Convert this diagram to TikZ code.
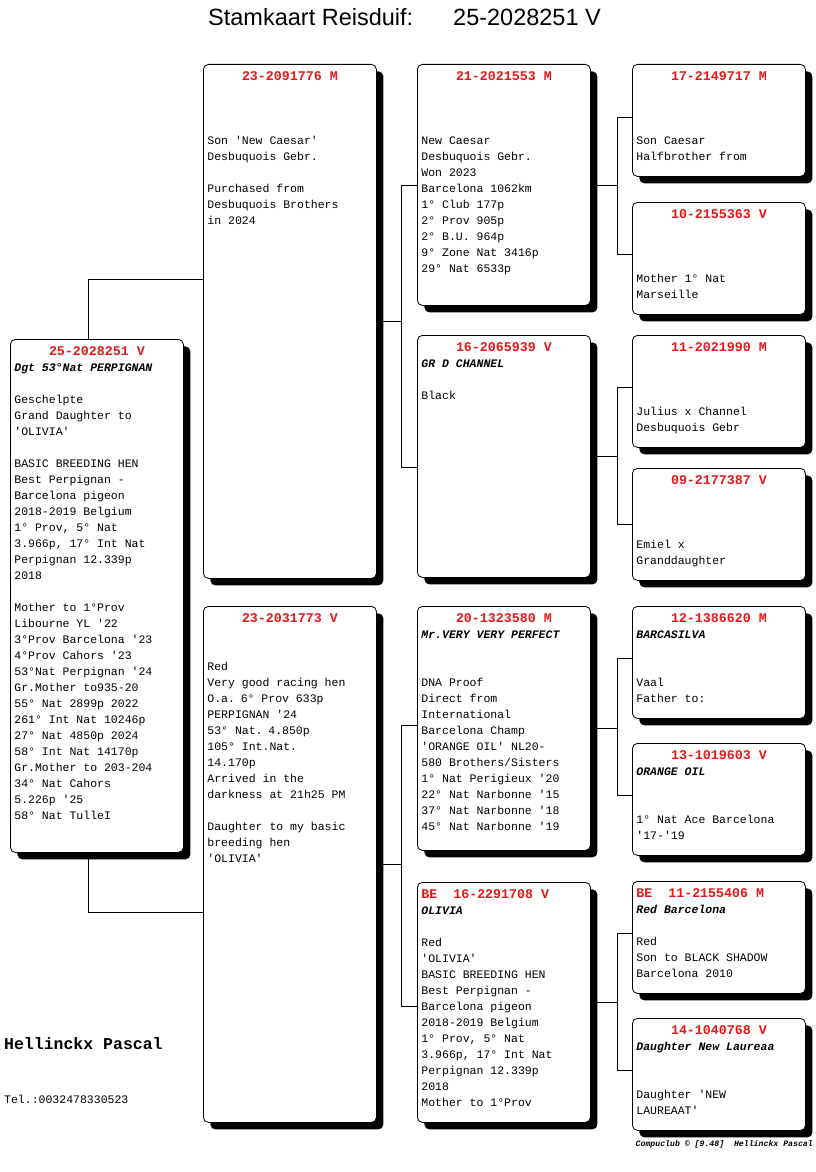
\documentclass[tikz,border=0pt]{standalone}
\usepackage{fontspec}
\setmonofont{Liberation Mono}
\newfontfamily\titelfont{Liberation Sans}
\usepackage{tikz}
\usetikzlibrary{shadows}
\definecolor{kopred}{RGB}{225,25,25}
\newcommand\kop[1]{\makebox[\linewidth]{\color{kopred}\fontsize{13.3}{16}\selectfont\bfseries #1}}
\newcommand\kopbe[1]{{\color{kopred}\fontsize{13.3}{16}\selectfont\bfseries #1}}
\newcommand\naam[1]{{\bfseries\itshape #1}}
\newcommand\vastespatie{\spaceskip 0pt\relax}

\begin{document}
\begin{tikzpicture}[x=1pt,y=-1pt,
    kaart/.style={draw,line width=0.8pt,fill=white,rounded corners=5pt,anchor=north west,
      text width=165pt,inner xsep=4pt,inner ysep=0pt,align=left,text height=16pt,
      font=\ttfamily\fontsize{11.5}{16}\selectfont,
      execute at begin node=\vastespatie,
      drop shadow={shadow xshift=7pt,shadow yshift=-7pt,fill=black,opacity=1}},
    lijn/.style={draw,line width=0.8pt},
    tekst/.style={anchor=base west,inner sep=0pt}]
    \fill[white] (0,0) rectangle (816,1172) ;
    \useasboundingbox (0,0) rectangle (816,1172) ;

    \node[tekst,font=\titelfont\fontsize{23.5}{28}\selectfont] (titel) at (208,26) {Stamkaart Reisduif:} ;
    \node[tekst,font=\titelfont\fontsize{23.5}{28}\selectfont] (ring) at (453,26) {25-2028251 V} ;

    \node[kaart,text depth=497pt] (kind) at (10,339) {\kop{25-2028251 V}\\
      \naam{Dgt 53°Nat PERPIGNAN}\\~\\Geschelpte\\Grand Daughter to\\'OLIVIA'\\~\\
      BASIC BREEDING HEN\\Best Perpignan -\\Barcelona pigeon\\2018-2019 Belgium\\
      1° Prov, 5° Nat\\3.966p, 17° Int Nat\\Perpignan 12.339p\\2018\\~\\
      Mother to 1°Prov\\Libourne YL '22\\3°Prov Barcelona '23\\4°Prov Cahors '23\\
      53°Nat Perpignan '24\\Gr.Mother to935-20\\55° Nat 2899p 2022\\261° Int Nat 10246p\\
      27° Nat 4850p 2024\\58° Int Nat 14170p\\Gr.Mother to 203-204\\34° Nat Cahors\\
      5.226p '25\\58° Nat TulleI} ;

    \node[kaart,text depth=498pt] (vader) at (203,64) {\kop{23-2091776 M}\\~\\~\\~\\
      Son 'New Caesar'\\Desbuquois Gebr.\\~\\Purchased from\\Desbuquois Brothers\\in 2024} ;
    \node[kaart,text depth=500pt] (moeder) at (203,606) {\kop{23-2031773 V}\\~\\~\\
      Red\\Very good racing hen\\O.a. 6° Prov 633p\\PERPIGNAN '24\\53° Nat. 4.850p\\
      105° Int.Nat.\\14.170p\\Arrived in the\\darkness at 21h25 PM\\~\\
      Daughter to my basic\\breeding hen\\'OLIVIA'} ;

    \node[kaart,text depth=225pt] (vv) at (417,64) {\kop{21-2021553 M}\\~\\~\\~\\
      New Caesar\\Desbuquois Gebr.\\Won 2023\\Barcelona 1062km\\1° Club 177p\\
      2° Prov 905p\\2° B.U. 964p\\9° Zone Nat 3416p\\29° Nat 6533p} ;
    \node[kaart,text depth=226pt] (vm) at (417,335) {\kop{16-2065939 V}\\
      \naam{GR D CHANNEL}\\~\\Black} ;
    \node[kaart,text depth=228pt] (mv) at (417,606) {\kop{20-1323580 M}\\
      \naam{Mr.VERY VERY PERFECT}\\~\\~\\DNA Proof\\Direct from\\International\\
      Barcelona Champ\\'ORANGE OIL' NL20-\\580 Brothers/Sisters\\1° Nat Perigieux '20\\
      22° Nat Narbonne '15\\37° Nat Narbonne '18\\45° Nat Narbonne '19} ;
    \node[kaart,text depth=224pt] (mm) at (417,882) {\kopbe{BE\ \ 16-2291708 V}\\
      \naam{OLIVIA}\\~\\Red\\'OLIVIA'\\BASIC BREEDING HEN\\Best Perpignan -\\
      Barcelona pigeon\\2018-2019 Belgium\\1° Prov, 5° Nat\\3.966p, 17° Int Nat\\
      Perpignan 12.339p\\2018\\Mother to 1°Prov} ;

    \node[kaart,text depth=96pt] (vvv) at (632,64) {\kop{17-2149717 M}\\~\\~\\~\\
      Son Caesar\\Halfbrother from} ;
    \node[kaart,text depth=96pt] (vvm) at (632,202) {\kop{10-2155363 V}\\~\\~\\~\\
      Mother 1° Nat\\Marseille} ;
    \node[kaart,text depth=96pt] (vmv) at (632,335) {\kop{11-2021990 M}\\~\\~\\~\\
      Julius x Channel\\Desbuquois Gebr} ;
    \node[kaart,text depth=96pt] (vmm) at (632,468) {\kop{09-2177387 V}\\~\\~\\~\\
      Emiel x\\Granddaughter} ;
    \node[kaart,text depth=96pt] (mvv) at (632,606) {\kop{12-1386620 M}\\
      \naam{BARCASILVA}\\~\\~\\Vaal\\Father to:} ;
    \node[kaart,text depth=96pt] (mvm) at (632,743) {\kop{13-1019603 V}\\
      \naam{ORANGE OIL}\\~\\~\\1° Nat Ace Barcelona\\'17-'19} ;
    \node[kaart,text depth=96pt] (mmv) at (632,881) {\kopbe{BE\ \ 11-2155406 M}\\
      \naam{Red Barcelona}\\~\\Red\\Son to BLACK SHADOW\\Barcelona 2010} ;
    \node[kaart,text depth=96pt] (mmm) at (632,1018) {\kop{14-1040768 V}\\
      \naam{Daughter New Laureaa}\\~\\~\\Daughter 'NEW\\LAUREAAT'} ;

    \draw[lijn] ([xshift=-9pt]kind.north) |- ([yshift=-215pt]vader.north west) ;
    \draw[lijn] ([xshift=-9pt]kind.south) |- ([yshift=-306pt]moeder.north west) ;

    \draw[lijn] (vader.east) -- ++(25,0) coordinate (vsplit) ;
    \draw[lijn] (vv.west) -| (vsplit) |- ([yshift=-132pt]vm.north west) ;
    \draw[lijn] (moeder.east) -- ++(25,0) coordinate (msplit) ;
    \draw[lijn] ([yshift=-119pt]mv.north west) -| (msplit) |- ([yshift=-124pt]mm.north west) ;

    \draw[lijn] (vv.east) -- ++(27,0) coordinate (vvsplit) ;
    \draw[lijn] ([yshift=-53pt]vvv.north west) -| (vvsplit) |- ([yshift=-52pt]vvm.north west) ;
    \draw[lijn] (vm.east) -- ++(27,0) coordinate (vmsplit) ;
    \draw[lijn] ([yshift=-52pt]vmv.north west) -| (vmsplit) |- ([yshift=-56pt]vmm.north west) ;
    \draw[lijn] (mv.east) -- ++(27,0) coordinate (mvsplit) ;
    \draw[lijn] ([yshift=-52pt]mvv.north west) -| (mvsplit) |- ([yshift=-52pt]mvm.north west) ;
    \draw[lijn] (mm.east) -- ++(27,0) coordinate (mmsplit) ;
    \draw[lijn] ([yshift=-52pt]mmv.north west) -| (mmsplit) |- ([yshift=-52pt]mmm.north west) ;

    \node[tekst,font=\ttfamily\bfseries\fontsize{16.5}{20}\selectfont] (fokker) at (4,1049) {Hellinckx Pascal} ;
    \node[tekst,font=\ttfamily\fontsize{11.5}{14}\selectfont] (tel) at (4,1103) {Tel.:0032478330523} ;
    \node[tekst,anchor=base east,font=\ttfamily\bfseries\itshape\fontsize{8.2}{10}\selectfont] (copy) at (813,1146) {Compuclub © [9.48]\ \ Hellinckx Pascal} ;
  \end{tikzpicture}
\end{document}
